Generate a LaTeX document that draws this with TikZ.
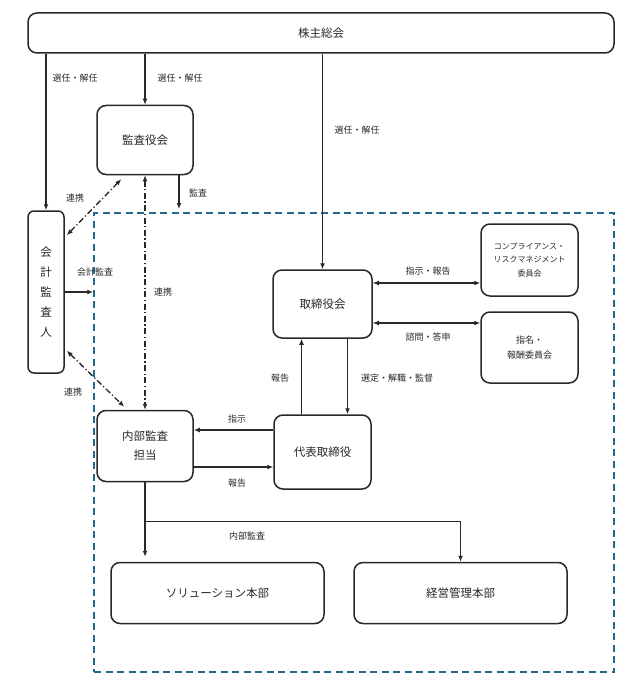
\documentclass[tikz,border=0pt]{standalone}
\usepackage{fontspec}
\setmainfont{Noto Sans CJK JP}
\usetikzlibrary{arrows.meta, positioning, calc}
\definecolor{framblue}{RGB}{36, 104, 142}
\definecolor{inkgray}{RGB}{40, 40, 40}

\begin{document}
\begin{tikzpicture}[x=1pt, y=-1pt, line width=1.3pt, color=inkgray,
  box/.style={draw, line width=1.5pt, rounded corners=9pt, inner sep=0pt, align=center, font=\fontsize{11.5}{19}\selectfont},
  lbl/.style={font=\fontsize{9}{11}\selectfont},
  arr/.style={-{Latex[length=6pt,width=5pt]}},
  dbl/.style={{Latex[length=6pt,width=5pt]}-{Latex[length=6pt,width=5pt]}},
  link/.style={dbl, dash pattern=on 6pt off 2.5pt on 1.3pt off 2.5pt}]
  \useasboundingbox (0,0) rectangle (636,687);

  % frame of the company
  \node[draw=framblue, line width=1.5pt, dash pattern=on 7pt off 4.5pt, minimum width=520pt, minimum height=459pt, inner sep=0pt] (frame) at (354,442.5) {};

  \node[box, minimum width=586pt, minimum height=40pt] (soukai) at (321,33) {株主総会};
  \node[box, minimum width=96pt, minimum height=69pt] (kansa) at (145,140) {監査役会};
  \node[box, minimum width=36pt, minimum height=162pt, rounded corners=6pt, font=\fontsize{11.5}{20}\selectfont] (kaikei) at (46,292) {会\\計\\監\\査\\人};
  \node[box, minimum width=99pt, minimum height=68pt] (torishimari) at (322.5,304) {取締役会};
  \node[box, minimum width=97pt, minimum height=72pt, font=\fontsize{8}{13.5}\selectfont] (comp) at (529.5,260) {コンプライアンス・\\リスクマネジメント\\委員会};
  \node[box, minimum width=97pt, minimum height=71pt, font=\fontsize{9}{15}\selectfont] (shimei) at (529.5,347.5) {指名・\\報酬委員会};
  \node[box, minimum width=97pt, minimum height=74pt] (daihyo) at (322.5,452) {代表取締役};
  \node[box, minimum width=96pt, minimum height=71pt] (naibu) at (145,446) {内部監査\\担当};
  \node[box, minimum width=213pt, minimum height=61pt] (solution) at (217.5,593) {ソリューション本部};
  \node[box, minimum width=213pt, minimum height=61pt] (keiei) at (460.5,593) {経営管理本部};

  % from the general meeting
  \draw[arr] (soukai.south -| kaikei) -- (kaikei.north);
  \node[lbl] (sennin1) at (75,78) {選任・解任};
  \draw[arr] (soukai.south -| kansa) -- (kansa.north);
  \node[lbl] (sennin2) at (180,78) {選任・解任};
  \draw[arr] (soukai.south -| torishimari) -- (torishimari.north);
  \node[lbl] (sennin3) at (357,130) {選任・解任};

  % audit
  \coordinate (kansaend) at (179,209);
  \draw[arr] (kansa.south -| kansaend) -- (kansaend);
  \node[lbl] (kansalbl) at (198,193) {監査};
  \draw[arr] (kaikei.east) -- (kaikei.east -| frame.west);
  \node[lbl] (kaikeilbl) at (95,272) {会計監査};

  % cooperation
  \draw[link] ($(kaikei.north east)+(2,25)$) -- ($(kansa.south west)+(25,4)$);
  \node[lbl] (renkei1) at (75,198) {連携};
  \draw[link] (kansa.south) -- (naibu.north);
  \node[lbl] (renkei2) at (163,292) {連携};
  \draw[link] ($(kaikei.south east)+(2,-23)$) -- ($(naibu.north west)+(28,-3)$);
  \node[lbl] (renkei3) at (73,392) {連携};

  % board and committees
  \draw[dbl] ([yshift=21pt]torishimari.east) -- ([yshift=21pt]torishimari.east -| comp.west);
  \node[lbl] (shiji1) at (428,271) {指示・報告};
  \draw[dbl] ([yshift=-19pt]torishimari.east) -- ([yshift=-19pt]torishimari.east -| shimei.west);
  \node[lbl] (shimon) at (428,337) {諮問・答申};

  % board and representative
  \draw[arr] ([xshift=-21pt]daihyo.north) -- ([xshift=-21pt]daihyo.north |- torishimari.south);
  \node[lbl] (houkoku1) at (280,378) {報告};
  \draw[arr] ([xshift=25pt]torishimari.south) -- ([xshift=25pt]torishimari.south |- daihyo.north);
  \node[lbl] (sentei) at (397,378) {選定・解職・監督};

  % representative and internal audit
  \draw[arr] ([yshift=22pt]daihyo.west) -- ([yshift=22pt]daihyo.west -| naibu.east);
  \node[lbl] (shiji2) at (237,419) {指示};
  \draw[arr] ([yshift=-15pt]daihyo.west -| naibu.east) -- ([yshift=-15pt]daihyo.west);
  \node[lbl] (houkoku2) at (237,483) {報告};

  % internal audit of the divisions
  \coordinate (split) at ($(naibu.south)+(0,39)$);
  \draw[arr] (naibu.south) -- ([yshift=5pt]solution.north -| naibu.south);
  \draw[arr] (split) -| (keiei.north);
  \node[lbl] (naibulbl) at (247,536) {内部監査};
\end{tikzpicture}
\end{document}
